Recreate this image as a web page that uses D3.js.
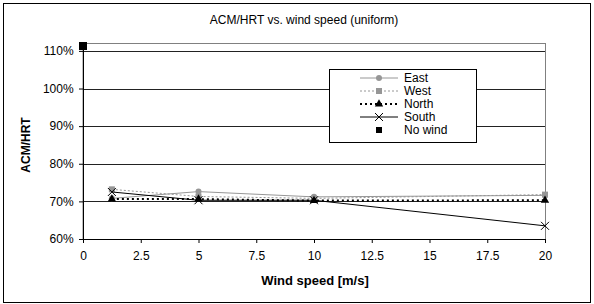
<!DOCTYPE html>
<html>
<head>
<meta charset="utf-8">
<script src="https://cdn.jsdelivr.net/npm/d3@7"></script>
<style>
  body { margin: 0; background: #fff; }
  text { font-family: "Liberation Sans", Arial, sans-serif; }
</style>
</head>
<body>
<div id="chart"></div>
<script>
// data
var speeds = [1.25, 5, 10, 20];
var east = [0.708, 0.726, 0.712, 0.716];
var west = [0.732, 0.713, 0.708, 0.718];
var north = [0.706, 0.706, 0.702, 0.703];
var south = [0.725, 0.703, 0.703, 0.635];
var noWind = [[0, 1.113]];
var xTicks = [0, 2.5, 5, 7.5, 10, 12.5, 15, 17.5, 20];
var yTicks = [0.6, 0.7, 0.8, 0.9, 1.0, 1.1];

var W = 594, H = 304;
var margin = { top: 43, right: 49, bottom: 65, left: 83 },
    width = W - margin.left - margin.right,
    height = H - margin.top - margin.bottom;

var svg = d3.select("#chart").append("svg")
    .attr("width", W).attr("height", H);

// outer frame
svg.append("rect")
    .attr("x", 3.5).attr("y", 3.5)
    .attr("width", W - 7).attr("height", H - 5)
    .attr("fill", "#fff").attr("stroke", "#000").attr("stroke-width", 1);

svg.append("text")
    .attr("x", 304).attr("y", 24)
    .attr("text-anchor", "middle")
    .style("font-size", "12px")
    .text("ACM/HRT vs. wind speed (uniform)");

var g = svg.append("g")
    .attr("transform", "translate(" + margin.left + "," + margin.top + ")");

var x = d3.scaleLinear().domain([0, 20]).range([0, width]);
var y = d3.scaleLinear().domain([0.6, 1.121]).range([height, 0]);

// plot area border
g.append("rect")
    .attr("x", 0).attr("y", 0.5)
    .attr("width", width + 0.5).attr("height", height)
    .attr("fill", "none").attr("stroke", "#808080");

// gridlines
g.selectAll(".grid").data(yTicks.slice(1)).enter().append("line")
    .attr("x1", 0).attr("x2", width)
    .attr("y1", function (d) { return Math.round(y(d)) + 0.5; })
    .attr("y2", function (d) { return Math.round(y(d)) + 0.5; })
    .attr("stroke", "#222").attr("stroke-width", 1);

// axes
var xAxis = g.append("g")
    .attr("transform", "translate(0," + height + ")")
    .call(d3.axisBottom(x).tickValues(xTicks).tickSize(4).tickSizeOuter(0)
        .tickFormat(function (d) { return d; }));
var yAxis = g.append("g")
    .call(d3.axisLeft(y).tickValues(yTicks).tickSize(4).tickSizeOuter(0)
        .tickFormat(d3.format(".0%")));
[xAxis, yAxis].forEach(function (a) {
    a.select(".domain").attr("stroke", "#000");
    a.selectAll("line").attr("stroke", "#000");
    a.selectAll("text").style("font-size", "12px").attr("fill", "#000")
        .style("font-family", "'Liberation Sans', Arial, sans-serif");
});
xAxis.selectAll("text").attr("dy", "1.15em");
yAxis.selectAll("text").attr("dx", "-0.2em");

svg.append("text")
    .attr("x", 315).attr("y", 285)
    .attr("text-anchor", "middle")
    .style("font-size", "13px").style("font-weight", "bold")
    .text("Wind speed [m/s]");
svg.append("text")
    .attr("transform", "translate(30,145) rotate(-90)")
    .attr("text-anchor", "middle")
    .style("font-size", "12px").style("font-weight", "bold")
    .text("ACM/HRT");

var series = [
    { name: "East", vals: east, color: "#969696", dash: null, sw: 1, marker: "circle" },
    { name: "West", vals: west, color: "#969696", dash: "2,2", sw: 1, marker: "square" },
    { name: "North", vals: north, color: "#000", dash: "2,3", sw: 2, marker: "triangle" },
    { name: "South", vals: south, color: "#000", dash: null, sw: 1, marker: "x" }
];

var line = d3.line()
    .x(function (d) { return x(d[0]); })
    .y(function (d) { return y(d[1]); });

function drawMarker(sel, type, color, cx, cy) {
    if (type === "circle") {
        sel.append("circle").attr("cx", cx).attr("cy", cy).attr("r", 3).attr("fill", color);
    } else if (type === "square") {
        sel.append("rect").attr("x", cx - 3).attr("y", cy - 3).attr("width", 6).attr("height", 6).attr("fill", color);
    } else if (type === "bigsquare") {
        sel.append("rect").attr("x", cx - 4).attr("y", cy - 4).attr("width", 8).attr("height", 8).attr("fill", color);
    } else if (type === "triangle") {
        sel.append("path").attr("d", d3.symbol().type(d3.symbolTriangle).size(30)())
            .attr("transform", "translate(" + cx + "," + cy + ")").attr("fill", color);
    } else if (type === "x") {
        sel.append("path")
            .attr("d", "M" + (cx - 4) + "," + (cy - 4) + "L" + (cx + 4) + "," + (cy + 4) +
                "M" + (cx - 4) + "," + (cy + 4) + "L" + (cx + 4) + "," + (cy - 4))
            .attr("stroke", color).attr("stroke-width", 1).attr("fill", "none");
    }
}

series.forEach(function (s) {
    var pts = speeds.map(function (v, i) { return [v, s.vals[i]]; });
    g.append("path").datum(pts)
        .attr("d", line)
        .attr("fill", "none")
        .attr("stroke", s.color)
        .attr("stroke-width", s.sw)
        .attr("stroke-dasharray", s.dash);
    pts.forEach(function (p) { drawMarker(g, s.marker, s.color, x(p[0]), y(p[1])); });
});
noWind.forEach(function (p) { drawMarker(g, "bigsquare", "#000", x(p[0]), y(p[1])); });

// legend
var lg = svg.append("g").attr("transform", "translate(329,69)");
lg.append("rect").attr("x", 0.5).attr("y", 0.5).attr("width", 147).attr("height", 73)
    .attr("fill", "#fff").attr("stroke", "#000");
var items = series.concat([{ name: "No wind", color: "#000", marker: "bigsquare", noLine: true }]);
items.forEach(function (s, i) {
    var cy = 9 + i * 13;
    if (!s.noLine) {
        lg.append("line").attr("x1", 31).attr("x2", 69).attr("y1", cy).attr("y2", cy)
            .attr("stroke", s.color).attr("stroke-width", s.sw).attr("stroke-dasharray", s.dash);
    }
    drawMarker(lg, s.marker === "bigsquare" ? "square" : s.marker, s.color, 50, cy);
    lg.append("text").attr("x", 75).attr("y", cy + 4)
        .style("font-size", "12px").text(s.name);
});
</script>
</body>
</html>
